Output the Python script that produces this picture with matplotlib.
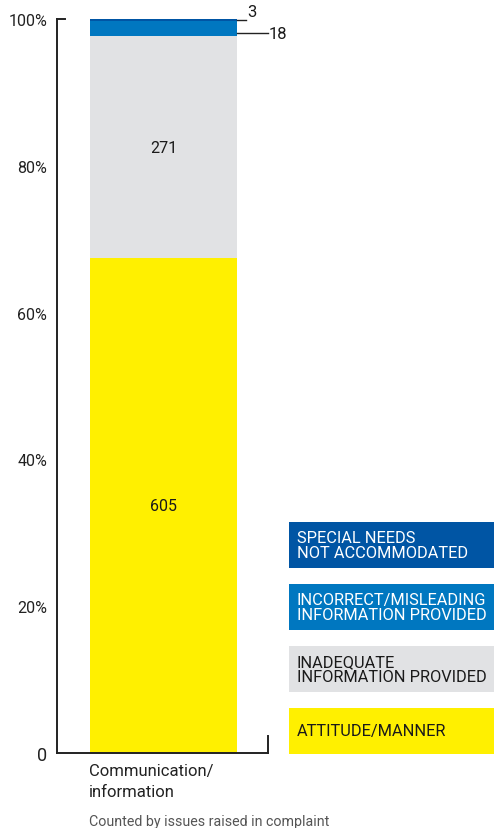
import matplotlib
matplotlib.use("Agg")
import matplotlib.pyplot as plt
from matplotlib.patches import Rectangle

plt.rcParams['font.family'] = ['Roboto', 'DejaVu Sans']

# Complaint issues, communication/information category
category = "Communication/\ninformation"
segments = ["ATTITUDE/MANNER", "INADEQUATE\nINFORMATION PROVIDED",
            "INCORRECT/MISLEADING\nINFORMATION PROVIDED", "SPECIAL NEEDS\nNOT ACCOMMODATED"]
counts = [605, 271, 18, 3]
colors = ["#FFF000", "#E1E2E4", "#0077C0", "#0055A4"]
legend_text_colors = ["#1a1a1a", "#1a1a1a", "white", "white"]
yticks = [0, 20, 40, 60, 80, 100]
ytick_labels = ["0", "20%", "40%", "60%", "80%", "100%"]

W, H = 494, 829
fig = plt.figure(figsize=(W / 100, H / 100), dpi=100)
ax = fig.add_axes([57 / W, 75 / H, 211 / W, 734 / H])

total = sum(counts)
shares = [c / total * 100 for c in counts]

bottom = 0
mids = []
for s, col in zip(shares, colors):
    ax.bar(0, s, width=1.0, bottom=bottom, color=col, linewidth=0)
    mids.append(bottom + s / 2)
    bottom += s

ax.set_xlim(-0.5 - 33 / 147, 0.5 + 31 / 147)
ax.set_ylim(0, 100)

ax.spines["top"].set_visible(False)
for sp in ["left", "bottom", "right"]:
    ax.spines[sp].set_linewidth(1.4)
    ax.spines[sp].set_color("#222222")
ax.spines["right"].set_bounds(0, 17 / 734 * 100)

ax.set_yticks(yticks)
ax.set_yticklabels(ytick_labels, fontsize=11.5, color="#222222")
ax.get_yticklabels()[0].set_fontsize(13)
ax.tick_params(axis="y", length=0, pad=7)
ax.set_xticks([])

# small tick at the top of the axis
ax.plot([-0.5 - 33 / 147, -0.5 - 25 / 147], [100, 100], color="#222222", lw=1.4, clip_on=False)

# values inside the large segments
for i in (0, 1):
    ax.text(0, mids[i], str(counts[i]), ha="center", va="center", fontsize=11.5, color="#1a1a1a")

# leader lines for the thin segments
ax.plot([0.5, 0.5 + 9 / 147], [mids[3], mids[3]], color="#222222", lw=1, clip_on=False)
ax.text(0.5 + 10 / 147, mids[3] + 0.1, str(counts[3]), ha="left", va="bottom", fontsize=12, color="#1a1a1a")
ax.plot([0.5, 0.5 + 31 / 147], [mids[2] - 0.6, mids[2] - 0.6], color="#222222", lw=1, clip_on=False)
ax.text(0.5 + 32 / 147, mids[2] - 0.6, str(counts[2]), ha="left", va="center", fontsize=12, color="#1a1a1a")

# category label and footnote
fig.text(89 / W, 1 - 764 / H, category, ha="left", va="top", fontsize=12,
         color="#222222", linespacing=1.5)
fig.text(89 / W, 1 - 822 / H, "Counted by issues raised in complaint", ha="left",
         va="center", fontsize=10.3, color="#555555")

# legend boxes
box_tops = [709, 647, 585, 523]
box_h = 46
for lab, col, tcol, top in zip(segments, colors, legend_text_colors, box_tops):
    fig.add_artist(Rectangle((289 / W, 1 - (top + box_h) / H), (W - 289) / W, box_h / H,
                             transform=fig.transFigure, color=col, linewidth=0))
    fig.text(297 / W, 1 - (top + box_h / 2) / H, lab, ha="left", va="center",
             fontsize=11.8, color=tcol, linespacing=1.05)

fig.savefig("out.png", dpi=100)
